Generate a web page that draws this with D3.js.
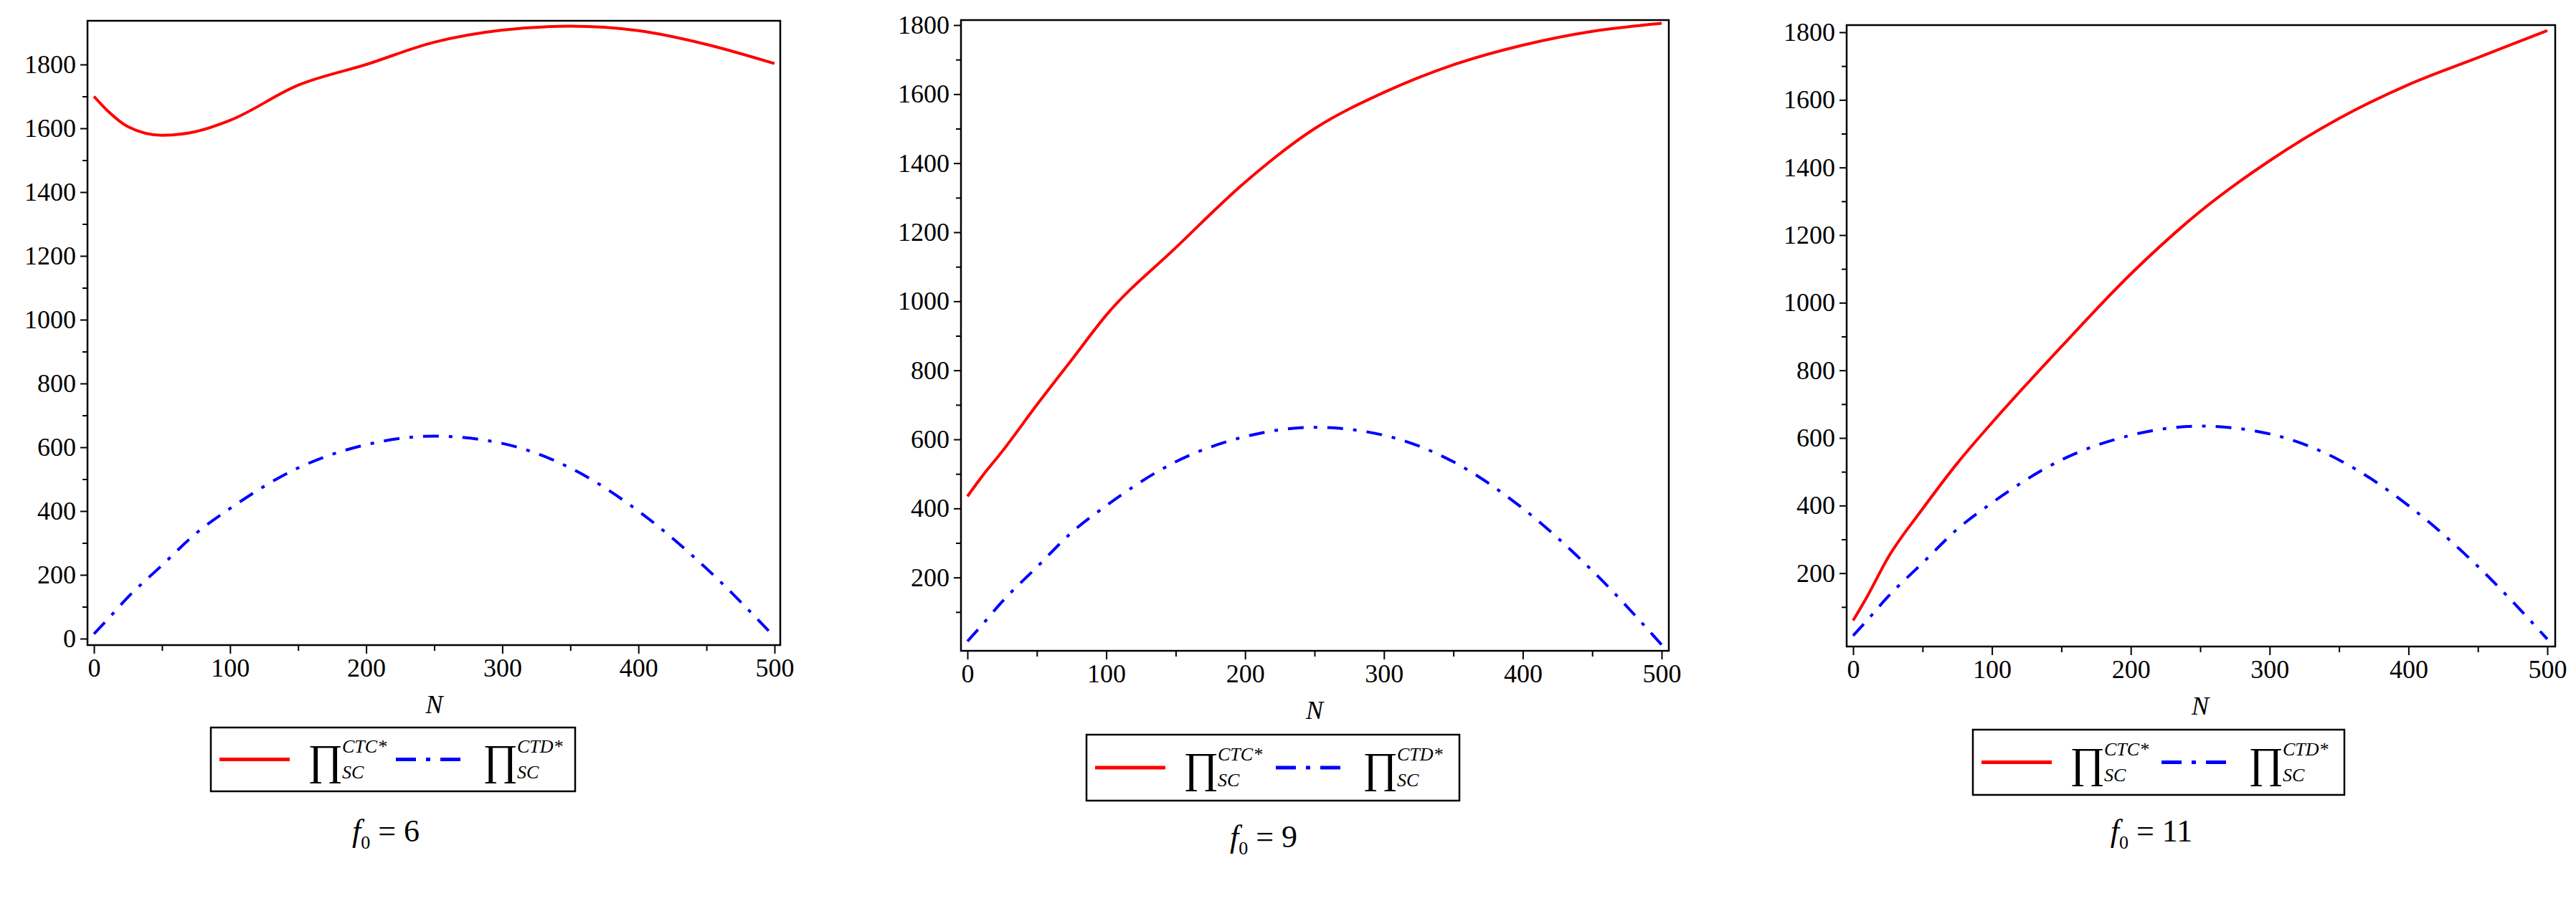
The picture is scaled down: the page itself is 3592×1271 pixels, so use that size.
<!DOCTYPE html>
<html><head><meta charset="utf-8">
<script src="https://cdn.jsdelivr.net/npm/d3@7"></script>
<style>body{margin:0;background:#fff}</style></head>
<body><svg id="c" width="3592" height="1271"></svg>
<script>
const nValues = [0,10,25,50,75,100,150,200,250,300,350,400,450,500];
const ctc_f6  = [1700,1655,1605,1578,1590,1625,1735,1800,1870,1908,1920,1906,1863,1803];
const ctc_f9  = [435,490,565,700,830,960,1155,1345,1500,1605,1685,1742,1782,1805];
const ctc_f11 = [60,130,245,390,525,645,870,1085,1270,1420,1545,1645,1725,1805];
const ctd     = [15,60,130,230,330,408,535,608,635,612,535,400,220,5];
const yTicks1 = [0,200,400,600,800,1000,1200,1400,1600,1800];
const yTicks2 = [200,400,600,800,1000,1200,1400,1600,1800];
const xTicks = [0,100,200,300,400,500];
const f0Labels = ["6","9","11"];

const panels = [
 {ctc:ctc_f6, yt:yTicks1, fx:[122,1088], fy:[29,900], x:[131,1080], y0:891, y1800:90, leg:[294,1015,802,1104], lab:[538,1160]},
 {ctc:ctc_f9, yt:yTicks2, fx:[1340,2327], fy:[28,908], x:[1349,2317], y0:902, y1800:35, leg:[1515,1025,2035,1117], lab:[1762,1168]},
 {ctc:ctc_f11, yt:yTicks2, fx:[2575,3563], fy:[35,902], x:[2584,3552], y0:894, y1800:45, leg:[2751,1018,3269,1109], lab:[3000,1160]},
];
const svg = d3.select("#c");
const font = "Liberation Serif";
panels.forEach((p,i)=>{
  const g = svg.append("g");
  const xs = d3.scaleLinear().domain([0,500]).range(p.x);
  const ys = d3.scaleLinear().domain([0,1800]).range([p.y0,p.y1800]);
  g.append("rect").attr("x",p.fx[0]).attr("y",p.fy[0]).attr("width",p.fx[1]-p.fx[0]).attr("height",p.fy[1]-p.fy[0])
   .attr("fill","none").attr("stroke","#000").attr("stroke-width",2.5);
  g.append("g").attr("transform",`translate(${p.fx[0]},0)`)
    .call(d3.axisLeft(ys).tickValues(p.yt).tickSize(10).tickPadding(6).tickFormat(d3.format("d")));
  const minorY = d3.range(100,1900,200).filter(v=>ys(v)>p.fy[0]&&ys(v)<p.fy[1]);
  g.append("g").attr("transform",`translate(${p.fx[0]},0)`)
    .call(d3.axisLeft(ys).tickValues(minorY).tickSize(7).tickFormat(""));
  g.append("g").attr("transform",`translate(0,${p.fy[1]})`)
    .call(d3.axisBottom(xs).tickValues(xTicks).tickSize(12).tickPadding(6).tickFormat(d3.format("d")));
  g.append("g").attr("transform",`translate(0,${p.fy[1]})`)
    .call(d3.axisBottom(xs).tickValues([50,150,250,350,450]).tickSize(8).tickFormat(""));
  g.selectAll(".domain").remove();
  g.selectAll(".tick line").attr("stroke","#000").attr("stroke-width",2);
  g.selectAll(".tick text").attr("font-family",font).attr("font-size",36).attr("fill","#000");
  g.append("text").attr("x",(p.x[0]+p.x[1])/2).attr("y",p.fy[1]+95).attr("text-anchor","middle")
   .attr("font-family",font).attr("font-style","italic").attr("font-size",36).text("N");
  const line = d3.line().x((d,j)=>xs(nValues[j])).y(d=>ys(d)).curve(d3.curveMonotoneX);
  g.append("path").datum(p.ctc).attr("d",line).attr("fill","none").attr("stroke","#ff0000").attr("stroke-width",4);
  g.append("path").datum(ctd).attr("d",line).attr("fill","none").attr("stroke","#0000ff").attr("stroke-width",4)
   .attr("stroke-dasharray","22,14,5,14");
  const [lx0,ly0,lx1,ly1]=p.leg, cy=(ly0+ly1)/2;
  g.append("rect").attr("x",lx0).attr("y",ly0).attr("width",lx1-lx0).attr("height",ly1-ly0)
   .attr("fill","#fff").attr("stroke","#000").attr("stroke-width",2.5);
  g.append("line").attr("x1",lx0+12).attr("x2",lx0+110).attr("y1",cy).attr("y2",cy).attr("stroke","#ff0000").attr("stroke-width",5);
  const half=(lx1-lx0)/2;
  g.append("line").attr("x1",lx0+half+4).attr("x2",lx0+half+100).attr("y1",cy).attr("y2",cy).attr("stroke","#0000ff").attr("stroke-width",5)
   .attr("stroke-dasharray","28,14,6,14");
  [["CTC*",lx0+135],["CTD*",lx0+half+125]].forEach(([sup,x])=>{
    const t=g.append("text").attr("font-family",font).attr("fill","#000");
    t.append("tspan").attr("x",x).attr("y",cy+20).attr("font-size",60).text("\u220F");
    t.append("tspan").attr("x",x+48).attr("y",cy-10).attr("font-size",26).attr("font-style","italic").text(sup);
    t.append("tspan").attr("x",x+48).attr("y",cy+26).attr("font-size",26).attr("font-style","italic").text("SC");
  });
  const t=g.append("text").attr("x",p.lab[0]).attr("y",p.lab[1]+14).attr("text-anchor","middle").attr("font-family",font).attr("font-size",44);
  t.append("tspan").attr("font-style","italic").text("f");
  t.append("tspan").attr("font-size",26).attr("dy",10).text("0");
  t.append("tspan").attr("dy",-10).text(" = "+f0Labels[i]);
});
</script></body></html>
